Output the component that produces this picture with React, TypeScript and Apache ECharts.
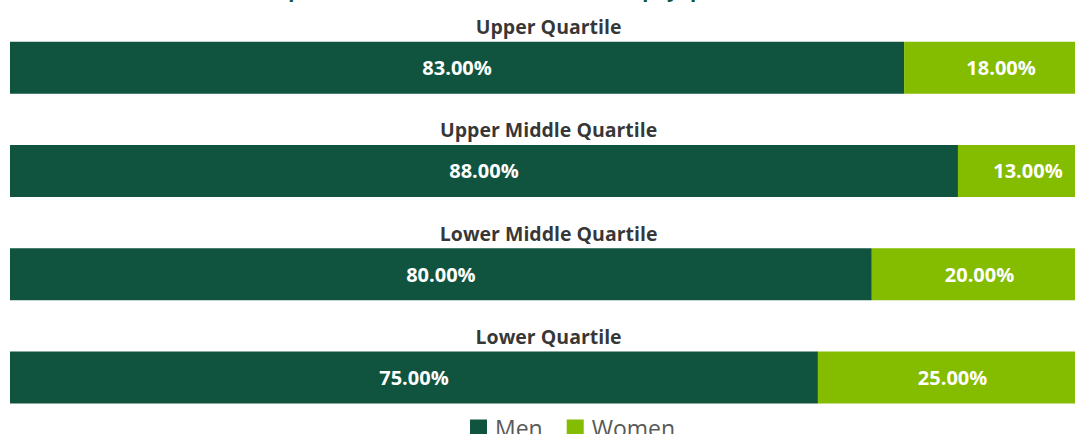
import React, { useEffect, useRef } from "react";
import * as echarts from "echarts";

const titleText = "Proportion of men and women in each pay quartile, 2023";
const categories = ["Upper Quartile", "Upper Middle Quartile", "Lower Middle Quartile", "Lower Quartile"];
const menValues = [83, 88, 80, 75];
const womenValues = [18, 13, 20, 25];
const seriesNames = ["Men", "Women"];
const axisMax = 101;

const MEN_COLOR = "#10543F";
const WOMEN_COLOR = "#84BC00";

export default function App() {
  const ref = useRef<HTMLDivElement>(null);
  useEffect(() => {
    if (!ref.current) return;
    const chart = echarts.init(ref.current, null, { renderer: "svg" });
    const valueLabel = {
      show: true,
      position: "inside",
      color: "#ffffff",
      fontFamily: "Open Sans",
      fontWeight: "bold",
      fontSize: 20,
      formatter: (p: any) => Number(p.value).toFixed(2) + "%",
    };
    chart.setOption({
      animation: false,
      title: {
        text: titleText,
        left: 537,
        textAlign: "center",
        top: -21,
        padding: 0,
        textStyle: { color: MEN_COLOR, fontFamily: "Open Sans", fontWeight: "bold", fontSize: 20 },
      },
      legend: {
        data: seriesNames,
        left: 465,
        top: 411,
        itemWidth: 17,
        itemHeight: 16,
        itemGap: 24,
        icon: "rect",
        textStyle: { color: "#595959", fontFamily: "Open Sans", fontSize: 23, padding: [0, 0, 0, 3] },
      },
      grid: { left: 10, right: 0, top: 16, bottom: 5, containLabel: false },
      xAxis: {
        type: "value",
        min: 0,
        max: axisMax,
        show: false,
      },
      yAxis: {
        type: "category",
        data: categories,
        inverse: true,
        axisLine: { show: false },
        axisTick: { show: false },
        axisLabel: { show: false },
      },
      series: [
        {
          name: seriesNames[0],
          type: "bar",
          stack: "total",
          data: menValues,
          barWidth: 52,
          itemStyle: { color: MEN_COLOR },
          label: valueLabel,
        },
        {
          name: seriesNames[1],
          type: "bar",
          stack: "total",
          data: womenValues,
          barWidth: 52,
          itemStyle: { color: WOMEN_COLOR },
          label: valueLabel,
        },
        {
          name: "categoryTitles",
          type: "scatter",
          data: categories.map((c) => [50, c]),
          symbolSize: 1,
          itemStyle: { color: "rgba(0,0,0,0)" },
          silent: true,
          z: 5,
          label: {
            show: true,
            position: "inside",
            offset: [0, -41],
            color: "#000000",
            fontFamily: "Open Sans",
            fontWeight: "bold",
            fontSize: 19.5,
            formatter: (p: any) => categories[p.dataIndex],
          },
        },
      ],
    });
    return () => chart.dispose();
  }, []);
  return (
    <div style={{ position: "fixed", left: 0, top: 0, width: 1075, height: 434, overflow: "hidden", background: "#fff" }}>
      <div ref={ref} style={{ width: 1098, height: 434 }} />
    </div>
  );
}
